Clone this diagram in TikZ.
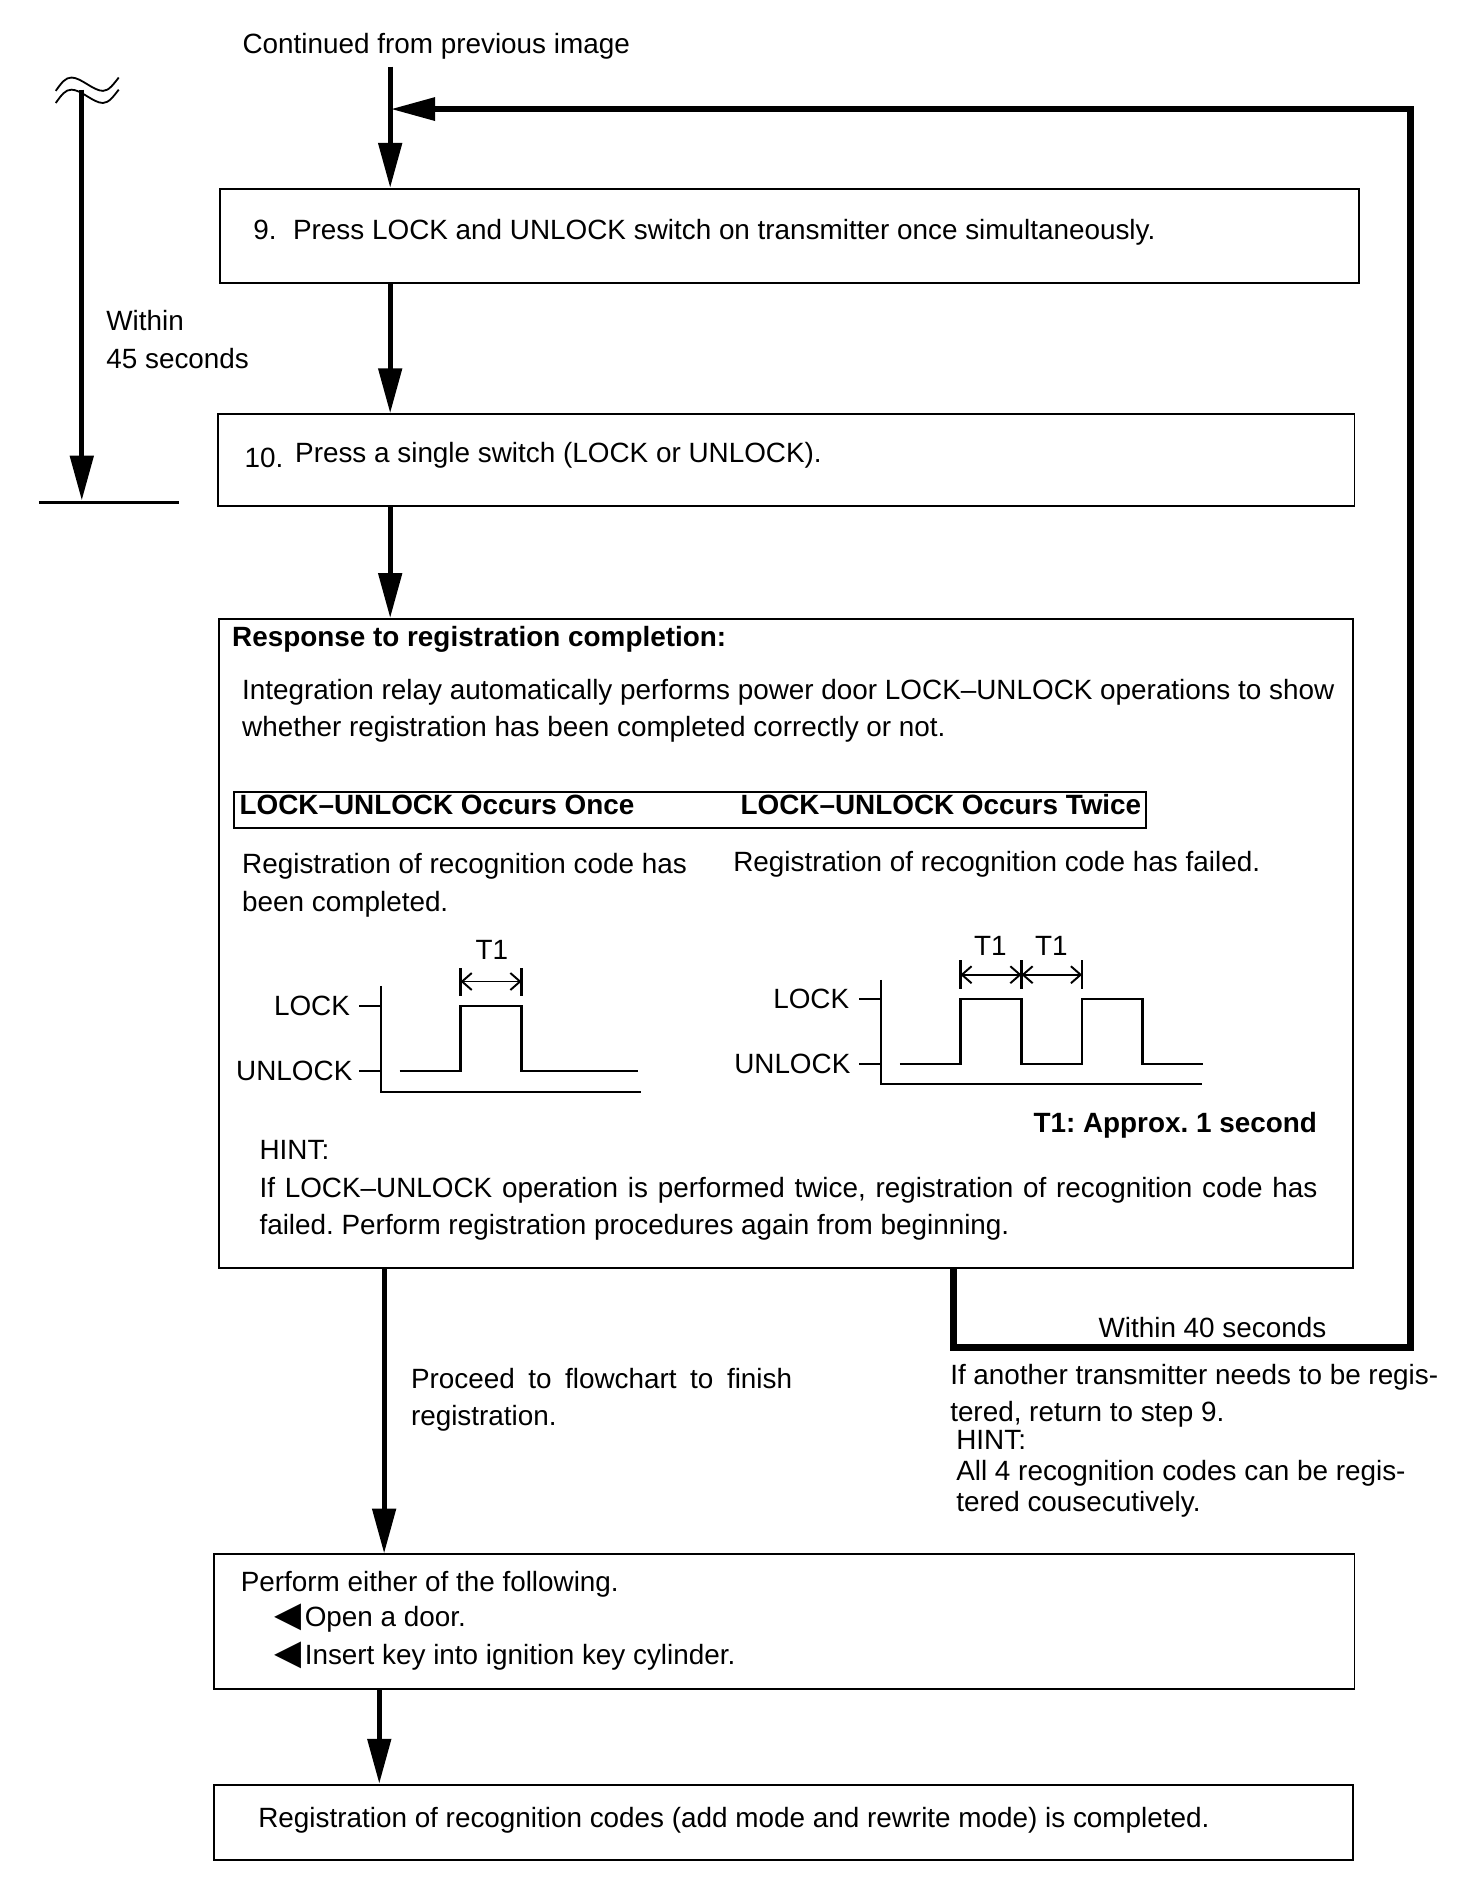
\documentclass[tikz,border=0pt]{standalone}
\usepackage{fontspec}
\setmainfont{Liberation Sans}
\newfontfamily\symf{DejaVu Sans}
\usetikzlibrary{arrows.meta}
\setlength\parindent{0pt}
\frenchspacing
\newcommand\fsz{\fontsize{23}{31}\selectfont}
\tikzset{
  stepbox/.style={draw, line width=1.6pt, anchor=north west, inner sep=0pt},
  lbl/.style={anchor=base west, inner sep=0pt, align=left},
  flow/.style={line width=4pt, -{Triangle[length=37pt,width=19pt]}},
  back/.style={line width=5.5pt, -{Triangle[length=37pt,width=18pt]}},
  sig/.style={line width=2pt},
  span/.style={line width=1.6pt, {Straight Barb[length=8pt,width=14pt]}-{Straight Barb[length=8pt,width=14pt]}}
}

\begin{document}
\begin{tikzpicture}[x=1pt, y=-1pt, font=\fsz]
\useasboundingbox (0,0) rectangle (1215,1568);

%boxes
\node[stepbox, minimum width=940pt, minimum height=78pt] (s9) at (181,155) {};
\node[stepbox, minimum width=938pt, minimum height=76pt] (s10) at (179,341) {};
\node[stepbox, minimum width=936pt, minimum height=536pt] (resp) at (180,510) {};
\node[stepbox, minimum width=753pt, minimum height=30pt] (hdr) at (192,652.5) {};
\node[stepbox, minimum width=941pt, minimum height=111pt] (s4) at (176,1282) {};
\node[stepbox, minimum width=940pt, minimum height=62pt] (s5) at (176,1472) {};

%texts (multi-line: base = last line)
\node[lbl] (cont) at (200,44) {Continued from previous image};
\node[lbl] (within) at (87.6,304) {Within\\45 seconds};
\node[lbl] (n9) at (209,198) {9.};
\node[lbl] (t9) at (241.7,198) {Press LOCK and UNLOCK switch on transmitter once simultaneously.};
\node[lbl] (n10) at (201.7,386) {10.};
\node[lbl] (t10) at (243.4,382) {Press a single switch (LOCK or UNLOCK).};
\node[lbl, font=\fsz\bfseries] (rtitle) at (191.4,533.5) {Response to registration completion:};
\node[lbl] (rbody) at (199.7,608) {Integration relay automatically performs power door LOCK–UNLOCK operations to show\\whether registration has been completed correctly or not.};
\node[lbl, font=\fsz\bfseries] (once) at (197.5,672.5) {LOCK–UNLOCK Occurs Once};
\node[lbl, font=\fsz\bfseries] (twice) at (611,672.5) {LOCK–UNLOCK Occurs Twice};
\node[lbl] (ok) at (199.7,752) {Registration of recognition code has\\been completed.};
\node[lbl] (ng) at (605,719) {Registration of recognition code has failed.};
\node[anchor=base east, inner sep=0pt, font=\fsz\bfseries] (t1note) at (1087,935) {T1: Approx. 1 second};
\node[lbl, text width=873pt, align=justify] (hint) at (214,957) {HINT:\\If LOCK–UNLOCK operation is performed twice, registration of recognition code has\linebreak failed. Perform registration procedures again from beginning.};
\node[lbl, text width=314.5pt, align=justify] (proc) at (339,1145.5) {Proceed to flowchart to finish\linebreak registration.};
\node[lbl] (w40) at (906.4,1103.4) {Within 40 seconds};
\node[lbl] (again) at (784,1173.5) {If another transmitter needs to be regis-\\tered, return to step 9.};
\node[lbl, font=\fontsize{23}{25.5}\selectfont] (hint2) at (789,1247.5) {HINT:\\All 4 recognition codes can be regis-\\tered cousecutively.};
\node[lbl] (pf) at (198.5,1313) {Perform either of the following.};
\node[lbl] (b1) at (226,1342) {{\symf\fontsize{29}{31}\selectfont ◀}\hspace{3pt}Open a door.};
\node[lbl] (b2) at (226,1373.5) {{\symf\fontsize{29}{31}\selectfont ◀}\hspace{3pt}Insert key into ignition key cylinder.};
\node[lbl] (done) at (213,1508.5) {Registration of recognition codes (add mode and rewrite mode) is completed.};

%timing, once
\node[anchor=east, inner sep=0pt] (lk1) at (289,830) {LOCK};
\node[anchor=east, inner sep=0pt] (ul1) at (291,884) {UNLOCK};
\draw[sig] (314.6,813.5) -- (314.6,901) -- (528.6,901);
\draw[sig] (296.3,830) -- (314.6,830);
\draw[sig] (296.3,884) -- (314.6,884);
\draw[sig] (329.7,884) -- (380.1,884) -- (380.1,830) -- (430.4,830) -- (430.4,884) -- (526.6,884);
\foreach \x in {380.1,430.4}
	\draw[sig] (\x,799) -- (\x,821.8);
\draw[span] (380.1,810) -- (430.4,810);
\node[inner sep=0pt] (t1a) at (406,784) {T1};

%timing, twice
\node[anchor=east, inner sep=0pt] (lk2) at (701,824.5) {LOCK};
\node[anchor=east, inner sep=0pt] (ul2) at (702,878.2) {UNLOCK};
\draw[sig] (727,808.6) -- (727,894.7) -- (992.3,894.7);
\draw[sig] (709,824.5) -- (727,824.5);
\draw[sig] (709,878.2) -- (727,878.2);
\draw[sig] (742.7,878.2) -- (792.6,878.2) -- (792.6,824.5) -- (843,824.5) -- (843,878.2)
	-- (893,878.2) -- (893,824.5) -- (942.8,824.5) -- (942.8,878.2) -- (992.8,878.2);
\foreach \x in {792.6,843,893}
	\draw[sig] (\x,792.6) -- (\x,816.3);
\foreach \a/\b in {792.6/843,843/893}
	\draw[span] (\a,804.4) -- (\b,804.4);
\node[inner sep=0pt] (t1b) at (817.3,780.5) {T1};
\node[inner sep=0pt] (t1c) at (867.7,780.5) {T1};

%connectors
\coordinate (top) at (322,55);
\coordinate (xa) at (317,0);
\coordinate (xb) at (313,0);
\draw[flow] (top) -- (s9.north -| top);
\draw[flow] (s9.south -| top) -- (s10.north -| top);
\draw[flow] (s10.south -| top) -- (resp.north -| top);
\draw[flow] (resp.south -| xa) -- (s4.north -| xa);
\draw[flow] (s4.south -| xb) -- (s5.north -| xb);

%return loop
\coordinate (r1) at (787,1112);
\coordinate (r2) at (1164,1112);
\coordinate (r3) at (1164,90);
\coordinate (join) at (322,90);
\draw[back] (resp.south -| r1) -- (r1) -- (r2) -- (r3) -- (join);

%within 45 seconds
\coordinate (w0) at (67.5,74);
\coordinate (w1) at (67.5,413);
\draw[flow] (w0) -- (w1);
\draw[line width=2.5pt] (32,414.5) -- (148,414.5);
\foreach \d in {0,10}
	\draw[line width=1.5pt, shift={(1,\d)}] (45,75) .. controls (50,68) and (53,64) .. (58,64)
		.. controls (66,64) and (76,75) .. (84,75) .. controls (89,75) and (93,69) .. (97,64);

\end{tikzpicture}
\end{document}
